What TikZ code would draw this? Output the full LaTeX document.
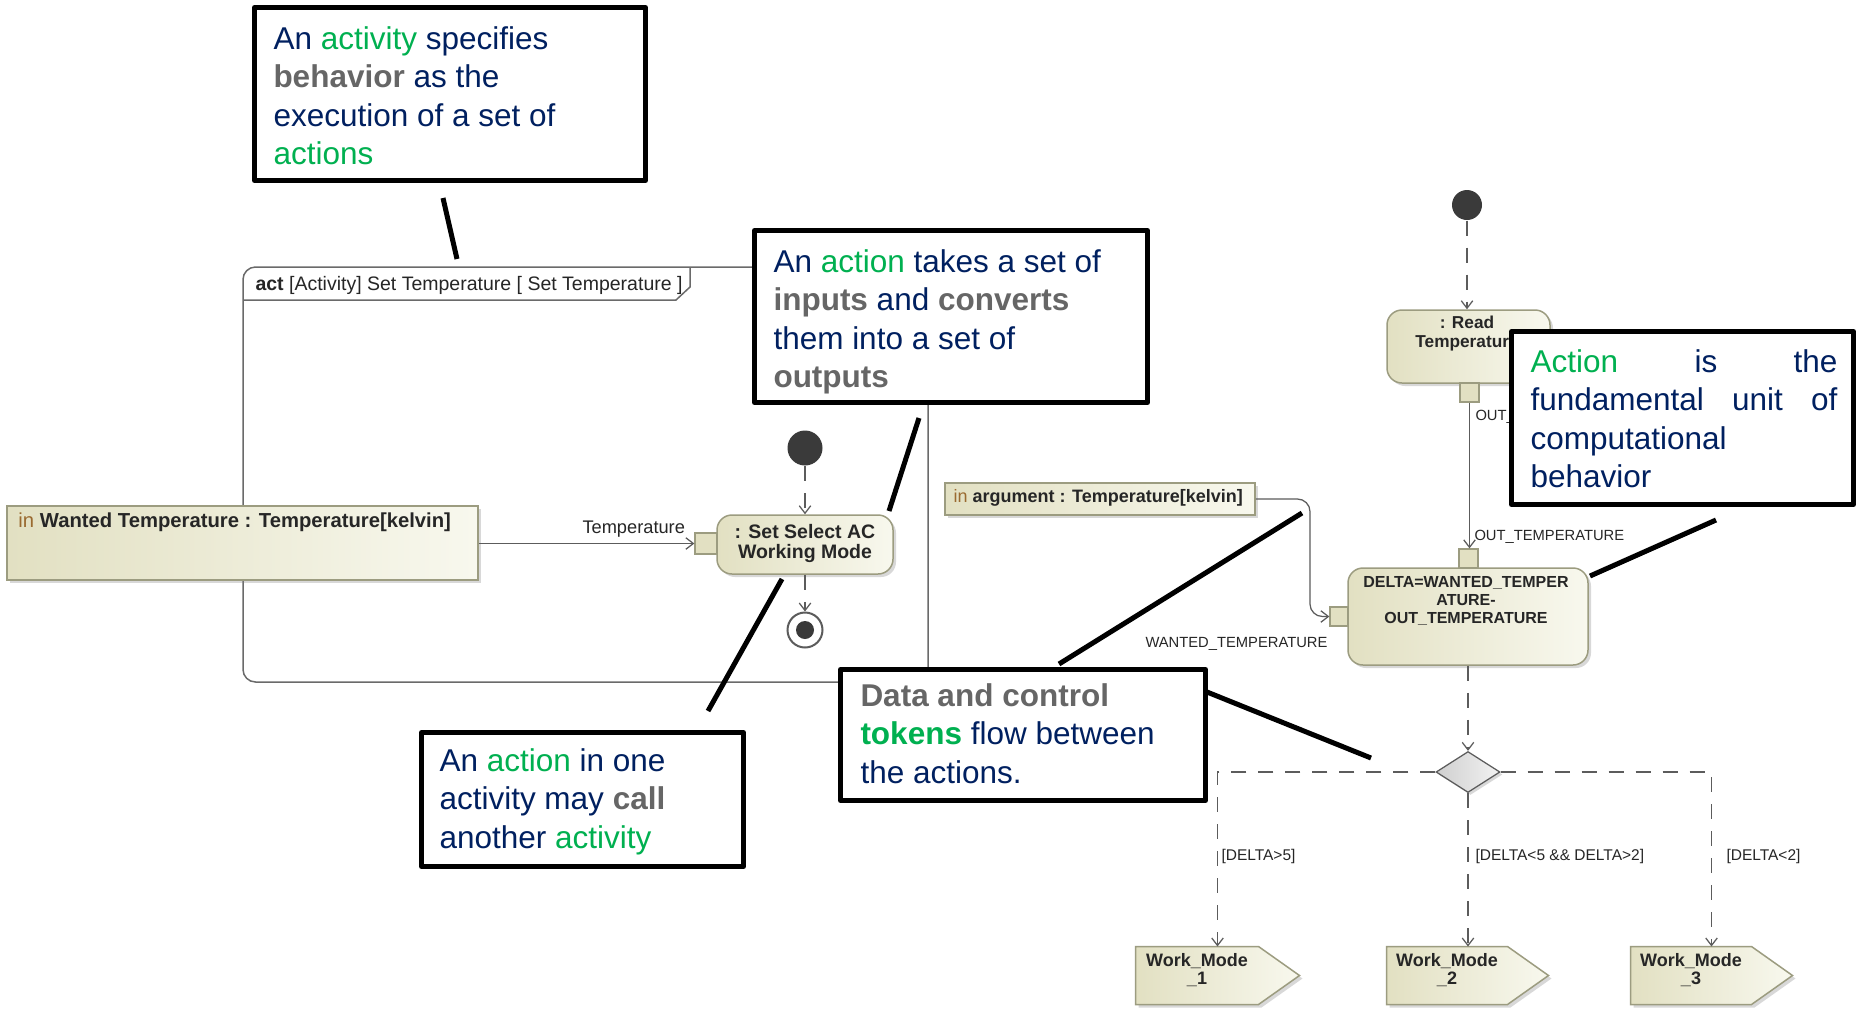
\documentclass[tikz,border=0pt]{standalone}
\usepackage{fontspec}
\setmainfont{Liberation Sans}
\usetikzlibrary{arrows.meta,shapes.geometric,shadows,calc,fit}

\definecolor{navy}{HTML}{002060}
\definecolor{calloutgreen}{HTML}{00B050}
\definecolor{boldgray}{HTML}{666666}
\definecolor{umlgray}{HTML}{5C5C5C}
\definecolor{framegray}{HTML}{6A6A6A}
\definecolor{actleft}{HTML}{E2E0C2}
\definecolor{actright}{HTML}{F8F8EE}
\definecolor{actborder}{HTML}{9C9C80}
\definecolor{inword}{HTML}{9A6A30}
\definecolor{umlink}{HTML}{262626}
\definecolor{initfill}{HTML}{3A3A3A}
\definecolor{decleft}{HTML}{CFCFCF}
\definecolor{decright}{HTML}{F2F2F2}

% coloured words inside the explanation boxes
\newcommand\greenword[1]{\textcolor{calloutgreen}{#1}}
\newcommand\grayword[1]{\textcolor{boldgray}{\bfseries #1}}
% stacked lines whose reference point is the baseline of the first line
\newcommand\leftlines[2]{\vtop{\baselineskip=#1\relax\lineskiplimit=-100pt\lineskip=0pt\halign{##\hfil\cr#2\crcr}}}
\newcommand\midlines[2]{\vtop{\baselineskip=#1\relax\lineskiplimit=-100pt\lineskip=0pt\halign{\hfil##\hfil\cr#2\crcr}}}

\begin{document}
\begin{tikzpicture}[x=0.4pt,y=-0.4pt,
  objflow/.style={umlgray, line width=0.5pt, -{Straight Barb[length=3pt,width=4.6pt]}},
  ctrlflow/.style={objflow, dash pattern=on 6pt off 4.8pt},
  actionbox/.style={rectangle, inner sep=0pt, rounded corners=6pt, draw=actborder, line width=0.6pt,
    left color=actleft, right color=actright,
    drop shadow={shadow xshift=1.2pt, shadow yshift=-1.2pt, opacity=0.3}},
  parambox/.style={rectangle, inner sep=0pt, draw=actborder, line width=0.6pt,
    left color=actleft, right color=actright,
    drop shadow={shadow xshift=1.2pt, shadow yshift=-1.2pt, opacity=0.3}},
  pinbox/.style={rectangle, inner sep=0pt, draw=actborder, line width=0.5pt, fill=actleft},
  wmbody/.style={rectangle, inner sep=0pt, draw=none},
  wmshape/.style={draw=actborder, line width=0.6pt, left color=actleft, right color=actright,
    drop shadow={shadow xshift=1.2pt, shadow yshift=-1.2pt, opacity=0.3}},
  activityframe/.style={rectangle, inner sep=0pt, draw=framegray, line width=0.6pt, rounded corners=5pt},
  initnode/.style={circle, inner sep=0pt, fill=initfill},
  finalnode/.style={circle, inner sep=0pt, draw=umlgray, line width=0.8pt, fill=white, minimum size=14pt,
    path picture={\fill[initfill] (path picture bounding box.center) circle (3.6pt);}},
  decision/.style={diamond, inner sep=0pt, draw=umlgray, line width=0.5pt, left color=decleft, right color=decright,
    minimum width=25.6pt, minimum height=16.4pt,
    drop shadow={shadow xshift=1pt, shadow yshift=-1pt, opacity=0.3}},
  umltext/.style={inner sep=0pt, text=umlink},
  callout/.style={rectangle, inner sep=0pt, draw=black, line width=2pt, fill=white, line join=round},
  pointer/.style={black, line width=2pt},
  callouttext/.style={anchor=base west, inner sep=0pt, text=navy, font=\fontsize{12.6}{15.4}\selectfont}
]
\useasboundingbox (0,0) rectangle (1856,1009);
\fill[white] (0,0) rectangle (1856,1009);

% ---------- activity frame ----------
\node[activityframe, fit={(243,267) (928,682)}] (frameAct) {};
\draw[framegray, line width=0.6pt] (243,300) -- (676,300) -- (690,287) -- (690,267);
\node[umltext, anchor=base west, font=\fontsize{7.8}{9}\selectfont] (frameTitle) at (255,290)
  {\textbf{act} [Activity] Set Temperature [ Set Temperature ]};

% ---------- left activity ----------
\node[parambox, fit={(7,506) (478,580)}] (paramW) {};
\node[umltext, anchor=base west, font=\fontsize{8.1}{9}\selectfont] (paramWText) at (18,527)
  {\textcolor{inword}{in} \textbf{Wanted Temperature : Temperature[kelvin]}};

\node[pinbox, fit={(695,533) (717,554)}] (pinA) {};
\node[actionbox, fit={(717,515) (893,574)}] (act1) {};
\node[umltext, anchor=base, font=\fontsize{7.8}{8}\selectfont\bfseries] (act1Text) at (805,538)
  {\midlines{8pt}{: Set Select AC\cr Working Mode}};

\draw[objflow] (paramW.east |- pinA.west) -- (pinA.west);
\node[umltext, anchor=base west, font=\fontsize{7.3}{8}\selectfont] (tempLabel) at (582,533) {Temperature};

\node[initnode, minimum size=14pt] (init1) at (805,448) {};
\node[finalnode] (final1) at (805,630) {};
\draw[ctrlflow] (init1) -- (act1.north);
\draw[ctrlflow] (act1.south) -- (final1);

% ---------- right activity ----------
\node[initnode, minimum size=12pt] (init2) at (1467,205) {};
\node[actionbox, fit={(1387,310) (1550,383)}] (readT) {};
\node[umltext, anchor=base, font=\fontsize{6.9}{7.6}\selectfont\bfseries] (readTText) at (1467,328)
  {\midlines{7.6pt}{: Read\cr Temperature}};
\node[pinbox, fit={(1460,383) (1479,402)}] (pinOut) {};
\draw[ctrlflow] (init2) -- (init2 |- readT.north);

\node[actionbox, fit={(1348,568) (1588,665)}] (delta) {};
\node[umltext, anchor=base, font=\fontsize{6.4}{7.2}\selectfont\bfseries] (deltaText) at (1466,587)
  {\midlines{7.2pt}{DELTA=WANTED\_TEMPER\cr ATURE-\cr OUT\_TEMPERATURE}};
\node[pinbox, fit={(1459,549) (1478,568)}] (pinOT) {};
\node[pinbox, fit={(1330,607) (1348,626)}] (pinW) {};

\draw[objflow] (pinOut.south) -- (pinOut.south |- pinOT.north);
\node[umltext, anchor=base west, font=\fontsize{5.9}{7}\selectfont] (outLabel) at (1475,420) {OUT\_};
\node[umltext, anchor=base west, font=\fontsize{5.9}{7}\selectfont] (otLabel) at (1474,540) {OUT\_TEMPERATURE};

\node[parambox, fit={(945,483) (1255,515)}] (paramArg) {};
\node[umltext, anchor=base west, font=\fontsize{7.2}{8}\selectfont] (paramArgText) at (953,502)
  {\textcolor{inword}{in} \textbf{argument : Temperature[kelvin]}};
\coordinate (bendW) at (1310,616.5);
\draw[objflow, rounded corners=5pt] (paramArg.east) -| (bendW) -- (pinW.west);
\node[umltext, anchor=base west, font=\fontsize{5.9}{7}\selectfont] (wantedLabel) at (1145,647) {WANTED\_TEMPERATURE};

% decision and outgoing branches
\node[decision] (dec) at (1468,772) {};
\node[wmbody, fit={(1136,947) (1258,1004)}] (wm1) {};
\node[wmbody, fit={(1387,947) (1507,1004)}] (wm2) {};
\node[wmbody, fit={(1631,947) (1751,1004)}] (wm3) {};
\foreach \w in {wm1,wm2,wm3}{
  \path[wmshape] (\w.north west) -- (\w.north east) -- ($(\w.east)+(41,0)$) -- (\w.south east) -- (\w.south west) -- cycle;
}
\foreach \w/\n in {wm1/1,wm2/2,wm3/3}{
  \node[umltext, anchor=base, font=\fontsize{7.2}{7.2}\selectfont\bfseries] (\w Text) at ($(\w.north)+(0,20)$)
    {\midlines{7.2pt}{Work\_Mode\cr \_\n}};
}

\draw[ctrlflow] (delta.south) -- (dec.north);
\draw[ctrlflow] (dec.west) -| ($(wm1.north)+(20.5,0)$);
\draw[ctrlflow] (dec.south) -- (dec.south |- wm2.north);
\draw[ctrlflow] (dec.east) -| ($(wm3.north)+(20.5,0)$);

\node[umltext, anchor=base west, font=\fontsize{6.2}{7}\selectfont] (guard1) at (1221,860) {[DELTA>5]};
\node[umltext, anchor=base west, font=\fontsize{6.2}{7}\selectfont] (guard2) at (1475,860) {[DELTA<5 \&\& DELTA>2]};
\node[umltext, anchor=base west, font=\fontsize{6.2}{7}\selectfont] (guard3) at (1726,860) {[DELTA<2]};

% ---------- explanation boxes ----------
\node[callout, fit={(254.5,7.5) (645.5,180.5)}] (boxA) {};
\node[callouttext] (txtA) at (273,49)
  {\leftlines{15.4pt}{An \greenword{activity} specifies\cr \grayword{behavior} as the\cr execution of a set of\cr \greenword{actions}}};

\node[callout, fit={(754.5,230.5) (1147.5,402.5)}] (boxB) {};
\node[callouttext] (txtB) at (773,272)
  {\leftlines{15.4pt}{An \greenword{action} takes a set of\cr \grayword{inputs} and \grayword{converts}\cr them into a set of\cr \grayword{outputs}}};

\node[callout, fit={(1511.5,331.5) (1853.5,504.5)}] (boxC) {};
\node[callouttext] (txtC) at (1530,372)
  {\leftlines{15.4pt}{\hbox to 122.8pt{\greenword{Action}\hfill is\hfill the}\cr
   \hbox to 122.8pt{fundamental\hfill unit\hfill of}\cr computational\cr behavior}};

\node[callout, fit={(421.5,732.5) (743.5,866.5)}] (boxD) {};
\node[callouttext] (txtD) at (439,771)
  {\leftlines{15.4pt}{An \greenword{action} in one\cr activity may \grayword{call}\cr another \greenword{activity}}};

\node[callout, fit={(840.5,669.5) (1205.5,800.5)}] (boxE) {};
\node[callouttext] (txtE) at (860,706)
  {\leftlines{15.4pt}{\grayword{Data and control}\cr \textcolor{calloutgreen}{\bfseries tokens} flow between\cr the actions.}};

% pointer strokes from the boxes to the diagram
\coordinate (pA1) at (443,198);  \coordinate (pA2) at (457,259);
\coordinate (pB1) at (919,418);  \coordinate (pB2) at (889,511);
\coordinate (pC1) at (1590,576); \coordinate (pC2) at (1716,520);
\coordinate (pD1) at (782,579);  \coordinate (pD2) at (708,711);
\coordinate (pE1) at (1059,664); \coordinate (pE2) at (1302,513);
\coordinate (pE3) at (1207,692); \coordinate (pE4) at (1371,758);
\draw[pointer] (pA1) -- (pA2);
\draw[pointer] (pB1) -- (pB2);
\draw[pointer] (pC1) -- (pC2);
\draw[pointer] (pD1) -- (pD2);
\draw[pointer] (pE1) -- (pE2);
\draw[pointer] (pE3) -- (pE4);
\end{tikzpicture}
\end{document}
